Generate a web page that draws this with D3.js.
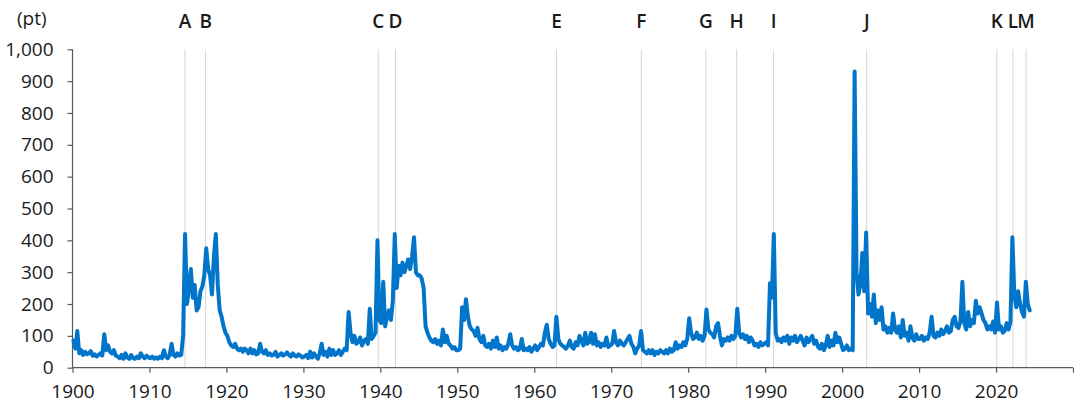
<!DOCTYPE html>
<html>
<head>
<meta charset="utf-8">
<script src="https://cdn.jsdelivr.net/npm/d3@7"></script>
<style>
  body { margin: 0; background: #fff; }
  svg text { font-family: "Open Sans", "Noto Sans", sans-serif; fill: #1a1a1a; }
</style>
</head>
<body>
<div id="chart"></div>
<script>
var width = 1074,
    height = 403;

// quarterly index values, one array per decade (first value = Q1 of the first year)
var gpr1900s = [85, 60, 115, 45, 55, 40, 50, 42, 45, 52, 38, 42, 35, 40, 45, 38, 105, 55, 70, 50,
                45, 55, 38, 35, 30, 40, 28, 45, 32, 28, 40, 30, 28, 35, 30, 45, 35, 30, 38, 32];
var gpr1910s = [30, 35, 28, 32, 28, 35, 30, 55, 35, 30, 40, 75, 40, 35, 45, 38, 40, 100, 420, 200,
                250, 310, 220, 260, 180, 190, 240, 255, 290, 375, 310, 290, 230, 350, 420, 260, 180, 160, 130, 110];
var gpr1920s = [100, 80, 70, 65, 75, 60, 55, 60, 50, 60, 55, 45, 60, 45, 55, 42, 45, 75, 50, 45,
                55, 40, 45, 38, 40, 50, 35, 40, 45, 38, 42, 48, 40, 35, 45, 38, 35, 42, 38, 32];
var gpr1930s = [35, 40, 30, 50, 32, 45, 35, 28, 45, 75, 40, 50, 35, 60, 40, 55, 40, 45, 55, 40,
                50, 60, 55, 175, 110, 80, 100, 75, 80, 95, 70, 85, 90, 75, 185, 90, 100, 110, 400, 150];
var gpr1940s = [140, 270, 130, 160, 180, 150, 210, 420, 250, 320, 290, 330, 300, 320, 340, 310, 350, 410, 300, 290,
                290, 280, 250, 130, 110, 95, 85, 80, 90, 75, 85, 70, 120, 80, 100, 75, 70, 60, 65, 55];
var gpr1950s = [55, 60, 190, 150, 215, 160, 130, 120, 115, 100, 125, 90, 80, 100, 70, 65, 75, 60, 85, 65,
                95, 60, 70, 55, 65, 60, 75, 105, 70, 60, 65, 55, 60, 90, 55, 60, 55, 65, 50, 60];
var gpr1960s = [70, 55, 65, 75, 70, 110, 135, 90, 75, 65, 70, 160, 90, 75, 70, 65, 60, 70, 85, 65,
                60, 80, 70, 100, 85, 70, 110, 75, 80, 110, 75, 105, 70, 80, 65, 75, 70, 95, 65, 70];
var gpr1970s = [75, 115, 80, 70, 85, 75, 70, 80, 90, 100, 75, 65, 45, 60, 70, 115, 55, 50, 45, 55,
                45, 55, 40, 50, 45, 55, 50, 45, 55, 45, 60, 50, 55, 80, 60, 70, 65, 80, 70, 90];
var gpr1980s = [155, 110, 90, 95, 110, 90, 100, 85, 100, 183, 120, 110, 105, 95, 130, 140, 100, 70, 90, 85,
                95, 85, 100, 90, 100, 185, 110, 95, 105, 90, 100, 80, 95, 85, 70, 75, 65, 80, 70, 75];
var gpr1990s = [80, 70, 265, 220, 420, 110, 85, 90, 80, 95, 85, 100, 75, 95, 85, 100, 80, 90, 100, 85,
                70, 95, 80, 90, 100, 75, 85, 65, 60, 75, 55, 70, 100, 65, 85, 70, 110, 80, 95, 75];
var gpr2000s = [55, 60, 70, 55, 60, 55, 930, 300, 230, 260, 360, 240, 425, 170, 200, 160, 230, 140, 180, 150,
                190, 120, 130, 110, 125, 110, 170, 120, 110, 130, 95, 150, 100, 110, 85, 130, 95, 85, 105, 90];
var gpr2010s = [90, 100, 85, 95, 90, 110, 160, 100, 95, 110, 100, 120, 105, 115, 130, 110, 115, 150, 160, 130,
                125, 145, 270, 140, 120, 175, 130, 150, 140, 210, 170, 190, 170, 150, 140, 120, 130, 120, 145, 110];
var gpr2020s = [205, 120, 130, 110, 115, 140, 120, 145, 410, 230, 190, 240, 200, 175, 160, 270, 200, 180];

var decadeStarts = [1900, 1910, 1920, 1930, 1940, 1950, 1960, 1970, 1980, 1990, 2000, 2010, 2020];
var decadeValues = [gpr1900s, gpr1910s, gpr1920s, gpr1930s, gpr1940s, gpr1950s, gpr1960s,
                    gpr1970s, gpr1980s, gpr1990s, gpr2000s, gpr2010s, gpr2020s];

// events marked with vertical lines
var eventLabels = ["A", "B", "C", "D", "E", "F", "G", "H", "I", "J", "K", "L", "M"];
var eventYears = [1914.62, 1917.3, 1939.73, 1941.96, 1962.88, 1973.9, 1982.3, 1986.3, 1991.1, 2003.2, 2020.1, 2022.2, 2023.9];

var yTicks = [0, 100, 200, 300, 400, 500, 600, 700, 800, 900, 1000];
var xTicks = [1900, 1910, 1920, 1930, 1940, 1950, 1960, 1970, 1980, 1990, 2000, 2010, 2020, 2030];

// flatten decades into {year, value}, each quarter placed at its middle
var series = [];
decadeValues.forEach(function(arr, k) {
    arr.forEach(function(v, i) {
        series.push({ year: decadeStarts[k] + (i + 0.5) / 4, value: v });
    });
});

var margin = { left: 72.5, right: 1, top: 49.3, bottom: 35.3 };

var x = d3.scaleLinear().domain([1900, 2030]).range([margin.left, width - margin.right]);
var y = d3.scaleLinear().domain([0, 1000]).range([height - margin.bottom, margin.top]);

var svg = d3.select("#chart").append("svg").attr("width", width).attr("height", height);

// event lines
svg.selectAll(".event").data(eventYears).enter().append("line")
    .attr("x1", d => x(d)).attr("x2", d => x(d))
    .attr("y1", y(1000)).attr("y2", y(0))
    .attr("stroke", "#d4d4d4").attr("stroke-width", 1);

svg.selectAll(".eventLabel").data(eventLabels).enter().append("text")
    .attr("x", (d, i) => x(eventYears[i]))
    .attr("y", 28)
    .attr("text-anchor", "middle")
    .style("font-size", "19px")
    .style("font-weight", 600)
    .text(d => d);

// axes
var yAxis = d3.axisLeft(y).tickValues(yTicks).tickSize(5).tickPadding(14).tickFormat(d3.format(","));
var gy = svg.append("g").attr("transform", "translate(" + margin.left + ",0)").call(yAxis);

var xAxis = d3.axisBottom(x).tickValues(xTicks).tickSize(5).tickPadding(12)
    .tickFormat(d => d < 2030 ? d3.format("d")(d) : "");
var gx = svg.append("g").attr("transform", "translate(0," + y(0) + ")").call(xAxis);

[gy, gx].forEach(function(g) {
    g.select(".domain").attr("stroke", "#595959").attr("stroke-width", 1.2);
    g.selectAll(".tick line").attr("stroke", "#595959").attr("stroke-width", 1.2);
    g.selectAll(".tick text").style("font-size", "19px").attr("fill", "#1a1a1a")
        .style("font-family", "'Open Sans', 'Noto Sans', sans-serif");
});
gx.select(".domain").attr("d", "M" + x(1900) + ",0H" + x(2030));
gy.select(".domain").attr("d", "M0," + y(1000) + "V" + y(0));

svg.append("text").attr("x", 17).attr("y", 25).style("font-size", "19px").text("(pt)");

// the index line
var line = d3.line().x(d => x(d.year)).y(d => y(d.value));
svg.append("path").datum(series)
    .attr("d", line)
    .attr("fill", "none")
    .attr("stroke", "#0075c9")
    .attr("stroke-width", 4)
    .attr("stroke-linejoin", "round")
    .attr("stroke-linecap", "round");
</script>
</body>
</html>
